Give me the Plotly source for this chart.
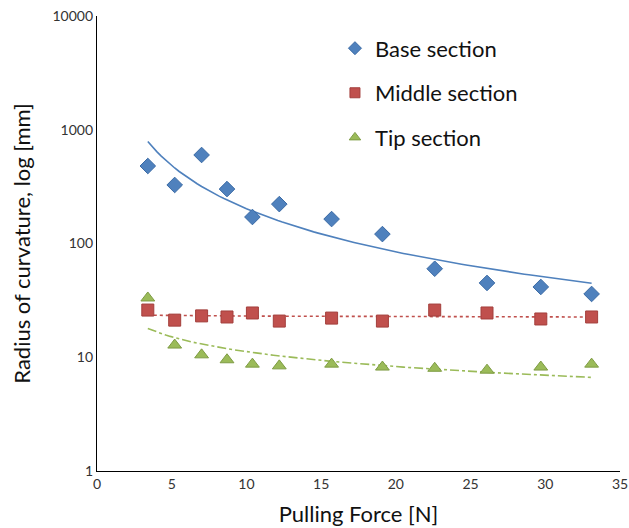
import numpy as np
import plotly.graph_objects as go

force = [3.4, 5.2, 7.0, 8.7, 10.4, 12.2, 15.7, 19.1, 22.6, 26.1, 29.7, 33.1]
base = [480, 327, 600, 301, 171, 222, 164, 121, 60, 45, 41.5, 36]
middle = [26, 21.2, 23.1, 22.6, 24.5, 20.8, 22.1, 20.8, 26, 24.5, 21.7, 22.6]
tip = [33.2, 12.8, 10.5, 9.5, 8.7, 8.4, 8.7, 8.2, 8.0, 7.7, 8.2, 8.7]

names = ["Base section", "Middle section", "Tip section"]
colors = ["#4F81BD", "#C0504D", "#9BBB59"]
edges = ["#3A6AA5", "#A33F3C", "#7E9C43"]
symbols = ["diamond", "square", "triangle-up"]
dashes = ["solid", "dot", "dashdot"]

FONT = "Lato"
fig = go.Figure()
x = np.array(force)
xs = np.linspace(x.min(), x.max(), 100)
for vals, name, c, d in zip([base, middle, tip], names, colors, dashes):
    b, a = np.polyfit(np.log(x), np.log(vals), 1)
    fig.add_trace(go.Scatter(x=xs, y=np.exp(a) * xs ** b, mode="lines",
                             line=dict(color=c, width=1.6, dash=d), showlegend=False,
                             hoverinfo="skip"))
for vals, name, c, e, s in zip([base, middle, tip], names, colors, edges, symbols):
    fig.add_trace(go.Scatter(x=force, y=vals, mode="markers", name=name, legendgroup=name,
                             showlegend=False,
                             marker=dict(symbol=s, size=12, color=c,
                                         line=dict(color=e, width=1))))
    # legend entry with a smaller symbol, as in the original
    fig.add_trace(go.Scatter(x=[None], y=[None], mode="markers", name=name, legendgroup=name,
                             marker=dict(symbol=s, size=10, color=c,
                                         line=dict(color=e, width=1))))

fig.update_layout(
    width=629, height=528,
    margin=dict(l=97, r=9, t=16, b=57),
    paper_bgcolor="white", plot_bgcolor="white",
    font=dict(family=FONT, color="#222222"),
    legend=dict(x=0.455, y=0.975, xanchor="left", yanchor="top",
                font=dict(size=22, family=FONT, color="#111111"),
                tracegroupgap=13, bgcolor="rgba(0,0,0,0)"),
    xaxis=dict(range=[0, 35], dtick=5, showgrid=False, zeroline=False, automargin=False,
               showline=True, linecolor="black", linewidth=1.2, ticks="",
               tickfont=dict(size=14, family=FONT, color="#333333"),
               title=dict(text="Pulling Force [N]", font=dict(size=22, family=FONT, color="#111111"))),
    yaxis=dict(type="log", range=[0, 4], showgrid=False, zeroline=False, automargin=False,
               showline=True, linecolor="black", linewidth=1.2, ticks="",
               tickvals=[1, 10, 100, 1000, 10000], ticktext=["1", "10", "100", "1000", "10000"],
               tickfont=dict(size=14, family=FONT, color="#333333"),
               title=dict(text="Radius of curvature, log [mm]", font=dict(size=22, family=FONT, color="#111111"))),
)
fig.write_html("out.html")
